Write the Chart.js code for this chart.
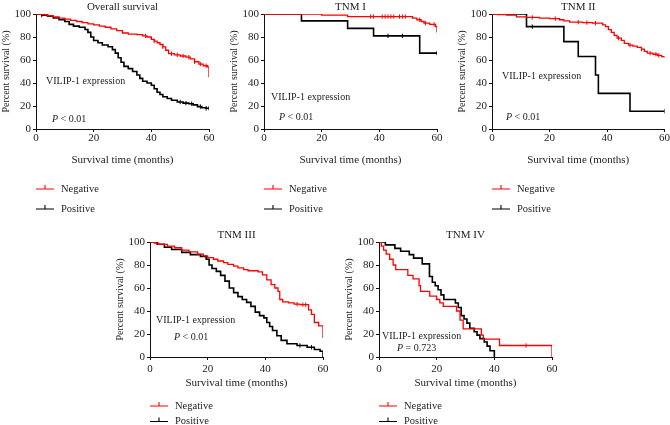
<!DOCTYPE html>
<html>
<head>
<meta charset="utf-8">
<title>VILIP-1 expression and survival</title>
<script src="https://cdn.jsdelivr.net/npm/chart.js@4.4.1/dist/chart.umd.min.js"></script>
<style>
  html, body { margin: 0; padding: 0; background: #fff; }
  #figure { position: relative; width: 670px; height: 425px; overflow: hidden; }
  #figure canvas { position: absolute; left: 0; top: 0; }
</style>
</head>
<body>
<div id="figure">
  <canvas id="overall" width="670" height="425"></canvas>
  <canvas id="tnm1" width="670" height="425"></canvas>
  <canvas id="tnm2" width="670" height="425"></canvas>
  <canvas id="tnm3" width="670" height="425"></canvas>
  <canvas id="tnm4" width="670" height="425"></canvas>
</div>
<script>
// Axis ticks and group names
const xTicks = [0, 20, 40, 60];
const yTicks = [0, 20, 40, 60, 80, 100];
const groupNames = ['Negative', 'Positive'];

// Overall survival (months / percent surviving)
const overallNegTime = [0, 2, 4, 6, 8, 10, 12, 14, 16, 18, 20, 22, 24, 26, 28, 30, 32, 35, 37, 38.5, 40, 41, 42, 43, 44, 45, 46, 48, 50, 52, 53.5, 55, 56.5, 58, 59.5, 60];
const overallNegSurv = [100, 99.5, 98.5, 97.5, 96.5, 95.5, 94.5, 93.5, 92.5, 91.5, 90.5, 89.5, 88.5, 87, 85.5, 83.5, 82.5, 82, 81, 80, 78, 76.5, 75, 73.5, 71.5, 68.5, 65.5, 64.5, 63.5, 62.5, 61, 58.5, 56.5, 55, 54, 45];
const overallNegCensor = [38, 41, 44, 47, 49, 51, 53, 55, 57, 59];
const overallPosTime = [0, 2, 4, 6, 8, 10, 11.5, 13, 15, 17, 18, 19, 20, 21.5, 23, 25, 26.5, 27.5, 28.5, 29.5, 30.5, 32, 33.5, 35, 36, 37, 38.5, 40, 41, 42, 43, 44, 45.5, 47, 49, 51, 53, 54.5, 56, 57.5, 59, 60];
const overallPosSurv = [100, 99, 98, 96.5, 95, 93.5, 91, 89.5, 88.5, 86.5, 84, 80, 77, 75, 73, 71.5, 69, 66, 62, 58, 54.5, 52.5, 50, 47, 44, 41.5, 40, 38, 35, 32, 30, 28, 26.5, 25, 23.5, 22.5, 22, 21, 19.5, 18.5, 18, 18];
const overallPosCensor = [2, 50, 52, 54, 57, 59, 60];

// TNM I
const tnm1NegTime = [0, 20, 29, 51.5, 53, 54.5, 55.5, 57.5, 59.5, 60];
const tnm1NegSurv = [100, 99, 97.8, 96.5, 95, 93.5, 92, 91, 89, 84];
const tnm1NegCensor = [37, 38, 41, 42, 43, 44, 45, 47, 48, 49, 54, 56, 59];
const tnm1PosTime = [0, 13, 29, 38, 54, 60];
const tnm1PosSurv = [100, 94, 87.5, 81, 66, 66];
const tnm1PosCensor = [43, 48, 60];

// TNM II
const tnm2NegTime = [0, 2, 5, 8.5, 12, 16.5, 20, 23.5, 25, 27, 31.5, 35, 38.5, 39.5, 40.5, 41.5, 42.5, 43.5, 45, 46, 47.5, 49, 50.5, 52, 53, 54, 56, 57.5, 59, 60];
const tnm2NegSurv = [100, 99.5, 99, 97.5, 97, 96.5, 96, 95, 94, 93, 92.5, 92, 90.5, 89, 86.5, 84, 81.5, 79, 77, 74.5, 73, 72, 71, 69.5, 67.5, 66, 65, 64, 63, 62];
const tnm2NegCensor = [14, 22, 30, 33, 36, 44, 48, 52, 55, 57, 58];
const tnm2PosTime = [0, 12, 25, 30, 36, 37, 48, 60];
const tnm2PosSurv = [100, 89, 76, 63, 47, 31, 15.5, 15.5];
const tnm2PosCensor = [14, 60];

// TNM III
const tnm3NegTime = [0, 1.5, 3, 6, 8.5, 11, 13.5, 16.5, 18.5, 20, 22, 23.5, 25.5, 27, 29, 30.5, 32.5, 34, 37.5, 39, 40.5, 42, 43.3, 44.4, 45, 46, 48, 50, 52, 55, 56, 57, 58.5, 60];
const tnm3NegSurv = [100, 99, 98, 96.5, 95, 93, 91.5, 89.5, 88, 86.5, 85, 83.5, 82, 80.5, 79, 77.5, 76, 75, 74, 71.5, 67, 63, 60, 57, 50, 48, 47, 46, 45.5, 41, 37, 30, 27, 16.5];
const tnm3NegCensor = [51, 53, 54];
const tnm3PosTime = [0, 2.5, 5, 7.5, 11, 14, 17.5, 19.5, 20.5, 21.5, 23, 24.5, 26, 27.5, 29, 30.5, 32, 33.5, 35, 36.5, 38, 39.5, 40.5, 41.5, 42.5, 44, 45.5, 47.5, 51, 54.5, 57, 59, 60];
const tnm3PosSurv = [100, 98, 95.5, 93.5, 91, 89, 87.5, 85, 80, 77, 74.5, 71, 66, 60, 56, 52.5, 50, 47.5, 44, 39, 36, 34, 30, 26.5, 23, 18.5, 14.5, 11.5, 10, 8.5, 6.5, 5, 0];
const tnm3PosCensor = [52, 56];

// TNM IV
const tnm4NegTime = [0, 0.8, 1.6, 2.5, 3.7, 4.9, 5.8, 10, 11.8, 13.9, 14.4, 17.6, 20, 21.1, 22.3, 26.9, 28.1, 29.2, 35.5, 36.2, 41.8, 60];
const tnm4NegSurv = [100, 96.5, 93, 89.5, 85, 80, 76, 71, 68, 62, 57, 53, 50, 47, 44, 40, 32, 24.5, 19, 15.5, 10, 0];
const tnm4NegCensor = [51];
const tnm4PosTime = [0, 2.2, 5.5, 7.5, 10.5, 12, 15, 17.5, 18.5, 19.5, 20.5, 21.5, 22.5, 26.5, 27.5, 28.5, 29.5, 30.5, 31.5, 33, 34, 35, 36.5, 37.5, 38.5, 40];
const tnm4PosSurv = [100, 97.5, 94.5, 92, 89, 86, 81, 70, 65, 62, 58.5, 54, 50, 47, 43, 36, 33, 29.5, 25, 22, 19, 16, 13, 9.5, 5.5, 0];
const tnm4PosCensor = [];

// Styling
const serif = "'Liberation Serif', 'Times New Roman', serif";
const textColor = '#1c1c1c';
const groupColors = ['#ff0000', '#000000'];
const groupWidths = [1.3, 1.6];

Chart.defaults.font.family = serif;
Chart.defaults.font.weight = 'normal';

// Row layout (page pixels)
const topRow = { top: 14, bottom: 129, xAxisHeight: 38, tickPad: 0, legendY: [189, 209] };
const bottomRow = { top: 242, bottom: 357, xAxisHeight: 33, tickPad: 2.5, legendY: [406, 421.5] };

const panels = [
  { canvas: 'overall', title: 'Overall survival', pText: '< 0.01', row: topRow, left: 36, right: 209,
    note: [46, 81], pPos: [52, 119],
    groups: [[overallNegTime, overallNegSurv, overallNegCensor], [overallPosTime, overallPosSurv, overallPosCensor]] },
  { canvas: 'tnm1', title: 'TNM I', pText: '< 0.01', row: topRow, left: 264, right: 437,
    note: [271, 97], pPos: [279, 117],
    groups: [[tnm1NegTime, tnm1NegSurv, tnm1NegCensor], [tnm1PosTime, tnm1PosSurv, tnm1PosCensor]] },
  { canvas: 'tnm2', title: 'TNM II', pText: '< 0.01', row: topRow, left: 492, right: 665,
    note: [502, 76], pPos: [506, 117],
    groups: [[tnm2NegTime, tnm2NegSurv, tnm2NegCensor], [tnm2PosTime, tnm2PosSurv, tnm2PosCensor]] },
  { canvas: 'tnm3', title: 'TNM III', pText: '< 0.01', row: bottomRow, left: 150, right: 323,
    note: [156, 320], pPos: [174, 337],
    groups: [[tnm3NegTime, tnm3NegSurv, tnm3NegCensor], [tnm3PosTime, tnm3PosSurv, tnm3PosCensor]] },
  { canvas: 'tnm4', title: 'TNM IV', pText: '= 0.723', row: bottomRow, left: 379, right: 552,
    note: [382, 336], pPos: [397, 348],
    groups: [[tnm4NegTime, tnm4NegSurv, tnm4NegCensor], [tnm4PosTime, tnm4PosSurv, tnm4PosCensor]] }
];

// Survival level of a step curve at time t
function survAt(times, surv, t) {
  let s = surv[0];
  times.forEach((time, i) => { if (time <= t) s = surv[i]; });
  return s;
}

// Panel title, VILIP-1 note, P value and the legend underneath
const kmText = {
  id: 'kmText',
  afterDraw(chart, args, opts) {
    const { ctx } = chart;
    const { left, right, top } = chart.chartArea;
    ctx.save();
    ctx.fillStyle = textColor;
    ctx.textBaseline = 'middle';

    ctx.font = `normal 11px ${serif}`;
    ctx.textAlign = 'center';
    ctx.fillText(opts.title, (left + right) / 2, top - 7);

    ctx.textAlign = 'left';
    ctx.font = `normal 10px ${serif}`;
    ctx.fillText('VILIP-1 expression', opts.note[0], opts.note[1]);
    ctx.font = `italic 10px ${serif}`;
    ctx.fillText('P', opts.pPos[0], opts.pPos[1]);
    const pw = ctx.measureText('P').width;
    ctx.font = `normal 10px ${serif}`;
    ctx.fillText(' ' + opts.pText, opts.pPos[0] + pw, opts.pPos[1]);

    chart.data.datasets.filter(ds => !ds.censor).forEach((ds, i) => {
      const y = opts.legendY[i];
      ctx.strokeStyle = ds.borderColor;
      ctx.lineWidth = 1.1;
      ctx.beginPath();
      ctx.moveTo(left, y);
      ctx.lineTo(left + 18, y);
      ctx.moveTo(left + 9, y);
      ctx.lineTo(left + 9, y - 4);
      ctx.stroke();
      ctx.fillStyle = textColor;
      ctx.font = `normal 10.5px ${serif}`;
      ctx.fillText(ds.label, left + 25, y);
    });
    ctx.restore();
  }
};

function buildDatasets(groups) {
  const curves = [];
  const marks = [];
  groups.forEach(([times, surv, censor], g) => {
    curves.push({
      label: groupNames[g],
      data: times.map((t, i) => ({ x: t, y: surv[i] })),
      borderColor: groupColors[g],
      borderWidth: groupWidths[g],
      stepped: true,
      pointRadius: 0,
      fill: false
    });
    marks.push({
      label: groupNames[g] + ' censored',
      censor: true,
      data: censor.map(t => ({ x: t, y: survAt(times, surv, t) })),
      showLine: false,
      pointStyle: 'line',
      pointRotation: 90,
      pointRadius: 2.2,
      pointBorderWidth: 1,
      pointBorderColor: groupColors[g],
      borderColor: groupColors[g]
    });
  });
  return curves.concat(marks);
}

panels.forEach(p => {
  const row = p.row;
  const ctx = document.getElementById(p.canvas).getContext('2d');

  new Chart(ctx, {
    type: 'line',
    data: { datasets: buildDatasets(p.groups) },
    options: {
      responsive: false,
      animation: false,
      events: [],
      layout: {
        padding: {
          left: p.left - 36,
          right: 670 - p.right,
          top: row.top,
          bottom: 425 - row.bottom - row.xAxisHeight
        }
      },
      plugins: {
        legend: { display: false },
        tooltip: { enabled: false },
        kmText: { title: p.title, pText: p.pText, note: p.note, pPos: p.pPos, legendY: row.legendY }
      },
      scales: {
        x: {
          type: 'linear',
          min: 0,
          max: 60,
          afterBuildTicks: scale => { scale.ticks = xTicks.map(v => ({ value: v })); },
          afterFit: scale => { scale.height = row.xAxisHeight; },
          ticks: { padding: row.tickPad, maxRotation: 0, color: textColor, font: { family: serif, size: 11, weight: 'normal' } },
          grid: { drawOnChartArea: false, tickLength: 3, color: '#111' },
          border: { color: '#111', width: 1 },
          title: { display: true, text: 'Survival time (months)', padding: 0, color: textColor, font: { family: serif, size: 11, weight: 'normal' } }
        },
        y: {
          min: 0,
          max: 100,
          afterBuildTicks: scale => { scale.ticks = yTicks.map(v => ({ value: v })); },
          afterFit: scale => { scale.width = 36; },
          ticks: { padding: 2, color: textColor, font: { family: serif, size: 11, weight: 'normal' } },
          grid: { drawOnChartArea: false, tickLength: 3, color: '#111' },
          border: { color: '#111', width: 1 },
          title: { display: true, text: 'Percent survival (%)', padding: 0, color: textColor, font: { family: serif, size: 10, weight: 'normal' } }
        }
      }
    },
    plugins: [kmText]
  });
});
</script>
</body>
</html>
